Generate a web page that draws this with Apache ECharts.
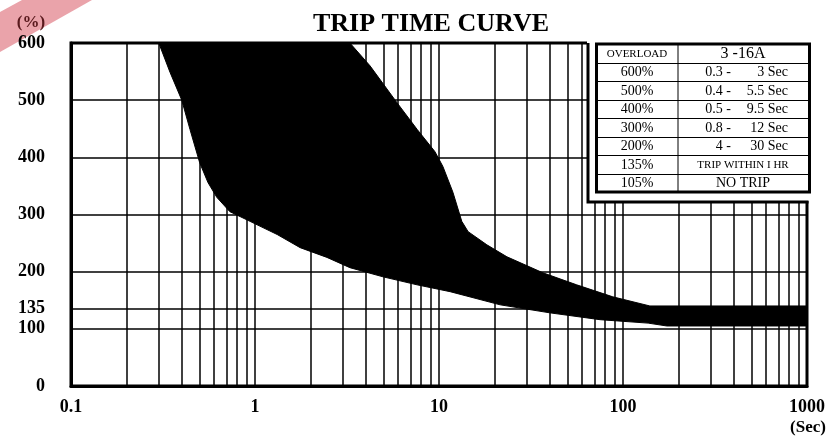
<!DOCTYPE html>
<html>
<head>
<meta charset="utf-8">
<script src="https://cdn.jsdelivr.net/npm/echarts@6/dist/echarts.min.js"></script>
<style>
html,body{margin:0;padding:0;background:#fff;}
#chart{width:838px;height:437px;}
</style>
</head>
<body>
<div id="chart"></div>
<script>
// axis ticks
var xDecades = [0.1, 1, 10, 100, 1000];
var yTicks = [0, 100, 135, 200, 300, 400, 500, 600];

// band edges [seconds, percent]
var minTrip = [
	[0.30, 600], [0.345, 549], [0.40, 500], [0.443, 449], [0.50, 391], [0.555, 356],
	[0.62, 330], [0.73, 305], [0.94, 288], [1.32, 265], [1.76, 242], [2.46, 225],
	[3.28, 207], [4.96, 191], [7.6, 177], [11.5, 165], [21.5, 142], [40, 128],
	[75, 116], [137, 110], [173, 105], [1000, 105]
];
var maxTrip = [
	[3.28, 600], [4.22, 560], [5.9, 496], [7.6, 449], [9.5, 410], [10.5, 384],
	[11.9, 339], [13.3, 288], [14.4, 270], [18.2, 247], [23.4, 226], [36.7, 198],
	[56, 177], [88, 156], [140, 140], [1000, 140]
];

// table
var tableHead = ['OVERLOAD', '3 -16A'];
var tableRows = [
	['600%', '0.3 -', '3 Sec'],
	['500%', '0.4 -', '5.5 Sec'],
	['400%', '0.5 -', '9.5 Sec'],
	['300%', '0.8 -', '12 Sec'],
	['200%', '4 -', '30 Sec'],
	['135%', 'TRIP WITHIN I HR'],
	['105%', 'NO TRIP']
];

var serif = '"Liberation Serif", "DejaVu Serif", serif';

// vertical grid lines 0.2 .. 900
var xGrid = [];
for (var d = 0; d < xDecades.length - 1; d++) {
	for (var m = 2; m <= 10; m++) {
		var v = xDecades[d] * m;
		if (v < 1000) xGrid.push({xAxis: v});
	}
}
var yGrid = [];
yTicks.forEach(function(v){
	if (v > 0 && v < 600) yGrid.push({yAxis: v});
});

// table graphics (drawn over the plot, upper right)
var tX0 = 596.5, tX1 = 809.5, tY0 = 44, tY1 = 192, tMid = 678;
var rowH = (tY1 - tY0) / 8;
var tableEls = [];
tableEls.push({type:'rect', z:100, shape:{x:587, y:38, width:226, height:163}, style:{fill:'#fff'}});
tableEls.push({type:'polyline', z:101, shape:{points:[[588,43],[588,202],[808.5,202]]}, style:{stroke:'#000', lineWidth:3, fill:null}});
tableEls.push({type:'rect', z:101, shape:{x:tX0, y:tY0, width:tX1-tX0, height:tY1-tY0}, style:{fill:'#fff', stroke:'#000', lineWidth:3}});
for (var r = 1; r < 8; r++) {
	var yy = Math.round(tY0 + r * rowH) + 0.5;
	tableEls.push({type:'line', z:102, shape:{x1:tX0, y1:yy, x2:tX1, y2:yy}, style:{stroke:'#000', lineWidth:1}});
}
tableEls.push({type:'line', z:102, shape:{x1:tMid, y1:tY0, x2:tMid, y2:tY1}, style:{stroke:'#000', lineWidth:1}});
function cellText(txt, x, row, size, align){
	return {type:'text', z:103, style:{text:txt, x:x, y:tY0 + (row + 0.5) * rowH + 1, align:align || 'center', verticalAlign:'middle',
		font:size + 'px ' + serif, fill:'#000'}};
}
tableEls.push(cellText(tableHead[0], 637, 0, 11));
tableEls.push(cellText(tableHead[1], 743, 0, 16));
tableRows.forEach(function(row, i){
	tableEls.push(cellText(row[0], 637, i + 1, 14));
	if (row.length === 3) {
		tableEls.push(cellText(row[1], 731, i + 1, 14, 'right'));
		tableEls.push(cellText(row[2], 788, i + 1, 14, 'right'));
	} else {
		tableEls.push(cellText(row[1], 743, i + 1, row[1].length > 10 ? 11 : 14));
	}
});

var myChart = echarts.init(document.getElementById('chart'));

var option = {
	animation: false,
	backgroundColor: '#fff',
	title: {
		text: 'TRIP TIME CURVE',
		left: 426,
		textAlign: 'center',
		top: 6,
		textStyle: {fontFamily: serif, fontSize: 26, fontWeight: 'bold', color: '#000'}
	},
	grid: {left: 71, right: 31, top: 43, bottom: 51, show: true, borderColor: '#000', borderWidth: 3, backgroundColor: 'transparent'},
	xAxis: {
		type: 'log',
		logBase: 10,
		min: 0.1,
		max: 1000,
		axisLine: {lineStyle: {color: '#000', width: 3}},
		axisTick: {show: false},
		splitLine: {show: false},
		axisLabel: {
			color: '#000', fontFamily: serif, fontSize: 18, fontWeight: 'bold', margin: 12,
			formatter: function(v){ return String(v); }
		}
	},
	yAxis: {
		type: 'value',
		min: 0,
		max: 600,
		axisLine: {show: true, lineStyle: {color: '#000', width: 3}},
		axisTick: {show: false},
		splitLine: {show: false},
		axisLabel: {
			customValues: yTicks,
			color: '#000', fontFamily: serif, fontSize: 18, fontWeight: 'bold', margin: 26
		}
	},
	graphic: [
		{type:'polygon', z: 0, shape:{points:[[0,12],[22,0],[92,0],[0,52]]}, style:{fill:'#eaa3aa'}},
		{type:'text', z: 1, style:{text:'(%)', x:31, y:23, align:'center', verticalAlign:'middle',
			font:'bold 17px ' + serif, fill:'#5a1a1e'}},
		{type:'text', style:{text:'(Sec)', x:808, y:428, align:'center', verticalAlign:'middle',
			font:'bold 17px ' + serif, fill:'#000'}}
	].concat(tableEls),
	series: [
		{
			type: 'custom',
			clip: true,
			data: [0],
			renderItem: function(params, api){
				var pts = [];
				minTrip.forEach(function(p){ pts.push(api.coord(p)); });
				for (var i = maxTrip.length - 1; i >= 0; i--) pts.push(api.coord(maxTrip[i]));
				return {type:'polygon', shape:{points: pts}, style:{fill:'#000', stroke:'#000', lineWidth:1}};
			}
		},
		{
			type: 'line',
			data: [],
			markLine: {
				silent: true,
				symbol: 'none',
				label: {show: false},
				lineStyle: {color: '#000', width: 1.5, type: 'solid'},
				data: xGrid.concat(yGrid)
			}
		}
	]
};
myChart.setOption(option);
</script>
</body>
</html>
